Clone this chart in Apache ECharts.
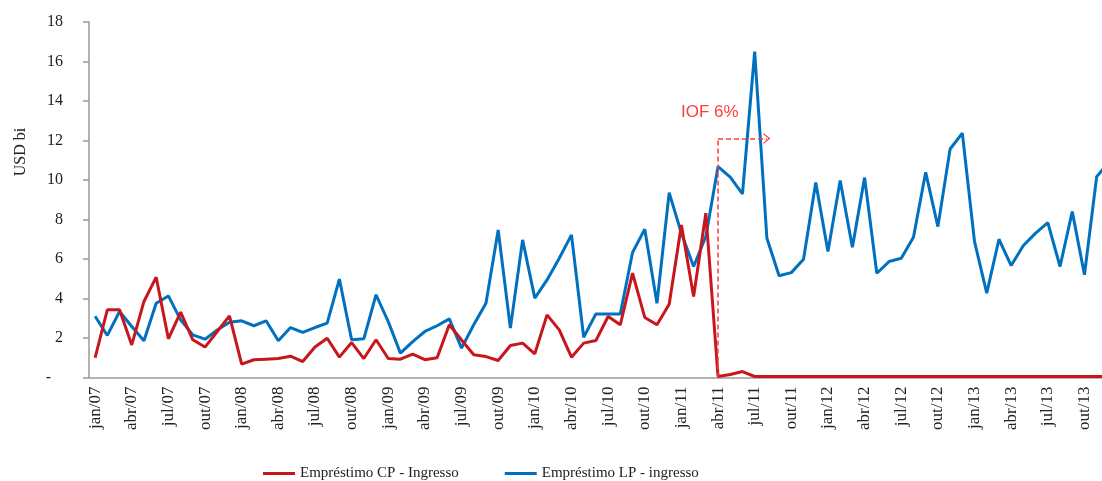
<!DOCTYPE html>
<html>
<head>
<meta charset="utf-8">
<title>Empréstimos - Ingresso</title>
<script src="https://cdn.jsdelivr.net/npm/echarts@6/dist/echarts.min.js"></script>
<style>
  html, body { margin: 0; padding: 0; background: #fff; }
  #chart { width: 1102px; height: 481px; }
</style>
</head>
<body>
<div id="chart"></div>
<script>
// meses em português, jan/07 .. dez/13
const monthNames = ['jan', 'fev', 'mar', 'abr', 'mai', 'jun', 'jul', 'ago', 'set', 'out', 'nov', 'dez'];
const years = ['07', '08', '09', '10', '11', '12', '13'];
const categories = [];
years.forEach((y) => monthNames.forEach((m) => categories.push(m + '/' + y)));

// USD bi
const emprestimoCP = [
  1.0, 3.43, 3.43, 1.65, 3.85, 5.08, 1.96, 3.31, 1.91, 1.54, 2.33, 3.12,
  0.68, 0.9, 0.93, 0.96, 1.08, 0.81, 1.54, 1.99, 1.03, 1.77, 0.96, 1.91,
  0.96, 0.93, 1.18, 0.9, 1.0, 2.67, 1.9, 1.15, 1.06, 0.86, 1.62, 1.74,
  1.2, 3.17, 2.41, 1.03, 1.74, 1.87, 3.09, 2.67, 5.28, 3.04, 2.67, 3.71,
  7.72, 4.1, 8.32, 0.05, 0.15, 0.3, 0.05, 0.05, 0.05, 0.05, 0.05, 0.05,
  0.05, 0.05, 0.05, 0.05, 0.05, 0.05, 0.05, 0.05, 0.05, 0.05, 0.05, 0.05,
  0.05, 0.05, 0.05, 0.05, 0.05, 0.05, 0.05, 0.05, 0.05, 0.05, 0.05, 0.05,
];
const emprestimoLP = [
  3.1, 2.13, 3.34, 2.58, 1.86, 3.76, 4.13, 2.92, 2.16, 1.94, 2.41, 2.8,
  2.87, 2.62, 2.87, 1.86, 2.53, 2.28, 2.53, 2.75, 4.98, 1.91, 1.96, 4.19,
  2.83, 1.23, 1.82, 2.33, 2.62, 2.97, 1.49, 2.67, 3.76, 7.47, 2.5, 6.97,
  4.02, 4.94, 6.04, 7.22, 2.04, 3.22, 3.22, 3.22, 6.33, 7.51, 3.76, 9.36,
  7.3, 5.62, 7.14, 10.68, 10.14, 9.3, 16.5, 7.05, 5.15, 5.31, 5.99, 9.87,
  6.38, 9.97, 6.6, 10.12, 5.28, 5.87, 6.04, 7.1, 10.39, 7.64, 11.57, 12.37,
  6.88, 4.27, 7.0, 5.67, 6.68, 7.31, 7.84, 5.62, 8.4, 5.2, 10.17, 10.9,
];

// anotação IOF 6%
const iofStart = 'abr/11';
const iofEnd = 'ago/11';
const iofLevel = 12.1;

const RED = '#c8161d';
const BLUE = '#0070c0';
const NOTE = '#ff3b3b';
const SERIF = '"Liberation Serif", "DejaVu Serif", serif';

const chart = echarts.init(document.getElementById('chart'));

chart.setOption({
  animation: false,
  backgroundColor: '#fff',
  // o gráfico original está cortado à direita (dez/13 fica fora da imagem)
  grid: { left: 89, top: 22, width: 1026, bottom: 103.5, outerBoundsMode: 'none' },
  legend: {
    left: 258,
    top: 461,
    itemWidth: 32,
    itemHeight: 3,
    itemGap: 46,
    icon: 'rect',
    textStyle: { fontFamily: SERIF, fontSize: 15, color: '#222' },
    data: ['Empréstimo CP - Ingresso', 'Empréstimo LP - ingresso'],
  },
  xAxis: {
    type: 'category',
    data: categories,
    boundaryGap: true,
    axisLine: { lineStyle: { color: '#9a9a9a', width: 1.5 } },
    axisTick: { interval: 2, length: 6, lineStyle: { color: '#9a9a9a', width: 1.5 } },
    axisLabel: {
      interval: 2,
      rotate: 90,
      margin: 9,
      fontFamily: SERIF,
      fontSize: 17,
      color: '#222',
    },
    splitLine: { show: false },
  },
  yAxis: {
    type: 'value',
    min: 0,
    max: 18,
    interval: 2,
    axisLine: { show: true, lineStyle: { color: '#9a9a9a', width: 1.5 } },
    axisTick: { show: true, length: 6, lineStyle: { color: '#9a9a9a', width: 1.5 } },
    axisLabel: {
      margin: 26,
      fontFamily: SERIF,
      fontSize: 16,
      color: '#222',
      formatter: (v) => (v === 0 ? '-   ' : String(v)),
    },
    splitLine: { show: false },
  },
  graphic: [
    {
      type: 'text',
      x: 21,
      y: 152,
      rotation: Math.PI / 2,
      style: {
        text: 'USD bi',
        fontFamily: SERIF,
        fontSize: 16,
        fill: '#222',
        align: 'center',
        verticalAlign: 'middle',
      },
    },
    {
      type: 'text',
      left: 681,
      top: 104,
      style: {
        text: 'IOF 6%',
        fontFamily: '"Liberation Sans", "Open Sans", sans-serif',
        fontSize: 17,
        fill: NOTE,
      },
    },
  ],
  series: [
    {
      name: 'Empréstimo CP - Ingresso',
      type: 'line',
      data: emprestimoCP,
      showSymbol: false,
      lineStyle: { width: 3, color: RED },
      itemStyle: { color: RED },
      z: 3,
      markLine: {
        silent: true,
        animation: false,
        label: { show: false },
        lineStyle: { color: NOTE, type: [5, 3], width: 1.5 },
        data: [
          [
            { coord: [iofStart, 0], symbol: 'none' },
            { coord: [iofStart, iofLevel], symbol: 'none' },
          ],
          [
            { coord: [iofStart, iofLevel], symbol: 'none' },
            { coord: [iofEnd, iofLevel], symbol: 'path://M0,10 L5,0 L10,10 L8.6,10 L5,2.6 L1.4,10 Z', symbolSize: [11, 7] },
          ],
        ],
      },
    },
    {
      name: 'Empréstimo LP - ingresso',
      type: 'line',
      data: emprestimoLP,
      showSymbol: false,
      lineStyle: { width: 3, color: BLUE },
      itemStyle: { color: BLUE },
      z: 2,
    },
  ],
});
</script>
</body>
</html>
